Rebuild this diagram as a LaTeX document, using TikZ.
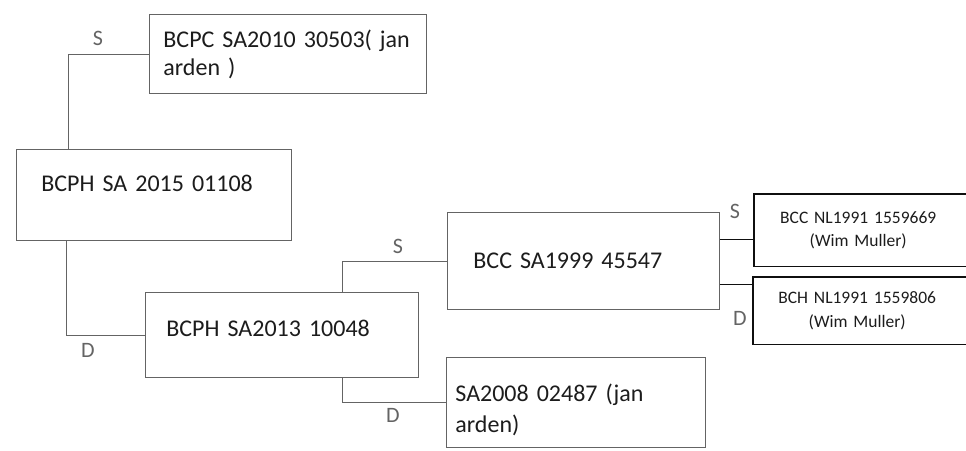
\documentclass[tikz,border=0pt]{standalone}
\usepackage{fontspec}
\setmainfont{Carlito}
\usetikzlibrary{positioning}
\definecolor{HL}{RGB}{100,100,100}
\definecolor{TX}{RGB}{28,28,28}
\definecolor{RB}{RGB}{15,15,15}
\tikzset{
  % hand-drawn pedigree box
  pbox/.style={
    draw=HL, line width=0.8pt, anchor=north west,
    align=left, inner ysep=0pt,
    font=\fontsize{24}{28}\selectfont, text=TX
  },
  % typed box on the right
  rbox/.style={
    anchor=north west, align=center,
    text width=208pt, inner xsep=0pt, inner ysep=0pt,
    font=\fontsize{17.5}{23}\selectfont, text=TX
  },
  % hand-drawn link
  hand/.style={draw=HL, line width=0.8pt},
  % typed link / border
  rline/.style={draw=RB, line width=1.4pt},
  % sire / dam mark
  sdmark/.style={font=\fontsize{22}{22}\selectfont, text=HL, inner sep=0pt},
}

\begin{document}
\begin{tikzpicture}[x=1pt, y=-1pt]

\useasboundingbox (0,0) rectangle (966,450);
\clip (0,0) rectangle (966,450);

% ── Boxes ────────────────────────────────────────────────────────────────────
\node[pbox, inner xsep=14pt, text width=249pt, minimum height=79pt] (bcpc)
  at (149,14) {\mbox{BCPC SA2010 30503( jan}\\arden )};
\node[pbox, inner xsep=25pt, text width=225pt, minimum height=91pt,
  text height=18pt, text depth=25pt] (bcph15)
  at (16,149) {BCPH SA 2015 01108};
\node[pbox, inner xsep=21pt, text width=231pt, minimum height=85pt,
  text height=18pt, text depth=15pt] (bcph13)
  at (145,292) {BCPH SA2013 10048};
\node[pbox, inner xsep=26pt, text width=220pt, minimum height=97pt] (bcc99)
  at (447,212) {BCC SA1999 45547};
\node[pbox, inner xsep=9pt, text width=241pt, minimum height=90pt,
  text depth=19pt] (sa08)
  at (446,357) {\mbox{SA2008 02487 (jan}\\[3pt]arden)};

% ── Right column (runs off the page) ─────────────────────────────────────────
\node[rbox, minimum height=72pt] (bccnl) at (754,194)
  {BCC NL1991 1559669\\(Wim Muller)};
\node[rbox, minimum height=67pt, font=\fontsize{17.5}{24}\selectfont] (bchnl)
  at (753,277) {BCH NL1991 1559806\\(Wim Muller)};
\draw[rline] ([xshift=40pt]bccnl.north east) -- (bccnl.north west)
  -- (bccnl.south west) -- ([xshift=40pt]bccnl.south east);
\draw[rline] ([xshift=40pt]bchnl.north east) -- (bchnl.north west)
  -- (bchnl.south west) -- ([xshift=40pt]bchnl.south east);

% ── Links ────────────────────────────────────────────────────────────────────
\draw[hand] ([xshift=52pt]bcph15.north west) |- (bcpc.west);
\draw[hand] ([xshift=50pt]bcph15.south west) |- (bcph13.west);
\draw[hand] ([xshift=197pt]bcph13.north west) |- (bcc99.west);
\draw[hand] ([xshift=197pt]bcph13.south west) |- (sa08.west);
\draw[rline] ([yshift=-9pt]bccnl.west) -- ([yshift=-9pt]bccnl.west -| bcc99.east);
\draw[rline] ([yshift=26pt]bchnl.west) -- ([yshift=26pt]bchnl.west -| bcc99.east);

% ── S / D marks ──────────────────────────────────────────────────────────────
\node[sdmark] (s1) at (98,38) {S};
\node[sdmark] (d1) at (88,350) {D};
\node[sdmark] (s2) at (398,246) {S};
\node[sdmark] (d2) at (393,415) {D};
\node[sdmark] (s3) at (735,211) {S};
\node[sdmark] (d3) at (740,318) {D};

\end{tikzpicture}
\end{document}
